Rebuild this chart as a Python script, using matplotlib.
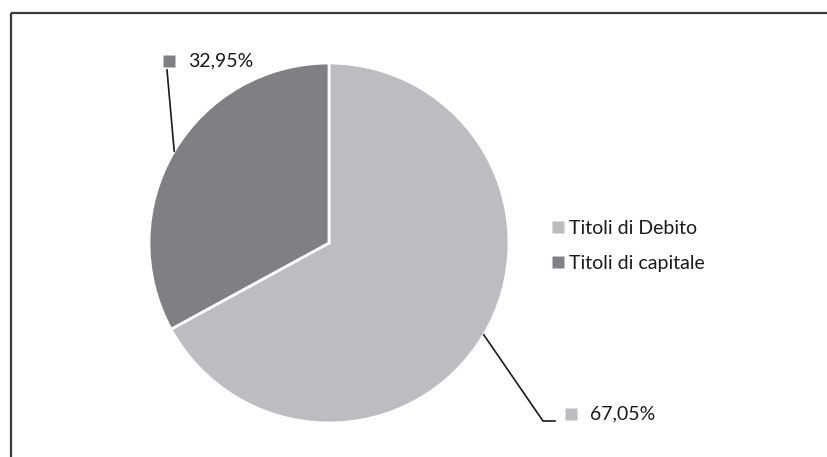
import numpy as np
import matplotlib.pyplot as plt
from matplotlib.lines import Line2D

plt.rcParams["font.family"] = ["Lato", "DejaVu Sans"]

categories = ["Titoli di Debito", "Titoli di capitale"]
shares = [67.05, 32.95]
pct_labels = ["67,05%", "32,95%"]
colors = ["#bcbdc0", "#7f8083"]

W, H = 827, 457
fig = plt.figure(figsize=(W / 100, H / 100), dpi=100)
ax = fig.add_axes([0, 0, 1, 1])

# frame: top and left edges only
ax.plot([11, W], [H - 13, H - 13], color="#3a3a3a", lw=1.6, solid_capstyle="butt")
ax.plot([11, 11], [H - 13, 0], color="#3a3a3a", lw=1.6, solid_capstyle="butt")

center = (329, H - 243)
radius = 180
wedges, _ = ax.pie(shares, colors=colors, startangle=90, counterclock=False,
                   center=center, radius=radius, frame=True,
                   wedgeprops=dict(edgecolor="white", linewidth=2))
ax.set_xlim(0, W)
ax.set_ylim(0, H)
ax.set_aspect("equal")
ax.axis("off")

# label placement (pixel coords, y from top)
label_pos = [(590, 414), (188, 61)]
bends = [[(543, 421), (555, 421)], [(167, 70)]]
for w, lab, col, (tx, ty), bend in zip(wedges, pct_labels, colors, label_pos, bends):
    ang = np.deg2rad((w.theta1 + w.theta2) / 2)
    ex = center[0] + radius * np.cos(ang)
    ey = center[1] + radius * np.sin(ang)
    xs = [ex] + [b[0] for b in bend]
    ys = [ey] + [H - b[1] for b in bend]
    ax.plot(xs, ys, color="#1a1a1a", lw=1.2)
    ax.plot(tx - 19, H - ty, marker="s", ms=8, color=col, mec="none")
    ax.text(tx, H - ty, lab, fontsize=14, va="center", ha="left", color="#1a1a1a")

handles = [Line2D([], [], marker="s", ls="none", ms=9, color=c, mec="none") for c in colors]
ax.legend(handles, categories, loc="upper left", bbox_to_anchor=(542 / W, 1 - 210 / H),
          frameon=False, fontsize=14, handlelength=0.6, handletextpad=0.3,
          labelspacing=0.95, borderpad=0, labelcolor="#1a1a1a")

fig.savefig("out.png", dpi=100)
